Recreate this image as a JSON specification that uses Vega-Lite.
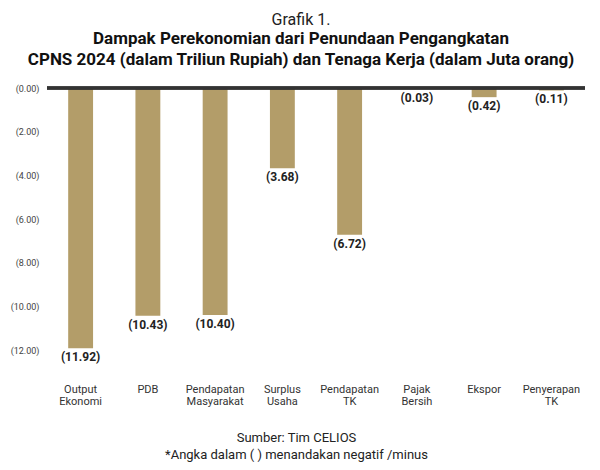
{
  "$schema": "https://vega.github.io/schema/vega-lite/v6.json",
  "autosize": {"type": "none"},
  "width": 538,
  "height": 262,
  "padding": {"left": 47, "top": 88, "right": 15, "bottom": 120},
  "background": "white",
  "config": {
    "font": "Roboto",
    "view": {"stroke": null}
  },
  "title": {
    "text": "Grafik 1.",
    "subtitle": [
      "Dampak Perekonomian dari Penundaan Pengangkatan",
      "CPNS 2024 (dalam Triliun Rupiah) dan Tenaga Kerja (dalam Juta orang)"
    ],
    "anchor": "middle",
    "dx": -15,
    "offset": 16,
    "fontSize": 16,
    "fontWeight": "normal",
    "color": "#222222",
    "subtitleFontSize": 17,
    "subtitleFontWeight": "bold",
    "subtitleColor": "#111111",
    "subtitleLineHeight": 21,
    "subtitlePadding": 3
  },
  "data": {
    "values": [
      {"kategori": "Output Ekonomi", "nilai": -11.92},
      {"kategori": "PDB", "nilai": -10.43},
      {"kategori": "Pendapatan Masyarakat", "nilai": -10.40},
      {"kategori": "Surplus Usaha", "nilai": -3.68},
      {"kategori": "Pendapatan TK", "nilai": -6.72},
      {"kategori": "Pajak Bersih", "nilai": -0.03},
      {"kategori": "Ekspor", "nilai": -0.42},
      {"kategori": "Penyerapan TK", "nilai": -0.11}
    ]
  },
  "encoding": {
    "x": {
      "field": "kategori",
      "type": "nominal",
      "sort": null,
      "scale": {"paddingInner": 0.63, "paddingOuter": 0.315},
      "axis": {
        "labelAngle": 0,
        "labelExpr": "split(datum.label, ' ')",
        "labelPadding": 33,
        "labelBaseline": "top",
        "labelFontSize": 11,
        "labelLineHeight": 12,
        "labelColor": "#333333",
        "domain": false,
        "ticks": false,
        "title": ["Sumber: Tim CELIOS", "*Angka dalam ( ) menandakan negatif /minus"],
        "titleFontSize": 13,
        "titleFontWeight": "normal",
        "titleColor": "#222222",
        "titleLineHeight": 17,
        "titlePadding": 25,
        "titleX": 249
      }
    },
    "y": {
      "field": "nilai",
      "type": "quantitative",
      "scale": {"domain": [-12, 0]},
      "axis": {
        "values": [0, -2, -4, -6, -8, -10, -12],
        "labelExpr": "'(' + format(abs(datum.value), '.2f') + ')'",
        "labelFontSize": 9,
        "labelColor": "#444444",
        "labelPadding": 8,
        "domain": false,
        "ticks": false,
        "grid": false,
        "title": null
      }
    }
  },
  "layer": [
    {
      "mark": {"type": "bar", "color": "#b39d69"}
    },
    {
      "mark": {"type": "text", "baseline": "top", "dy": 4, "fontSize": 12, "fontWeight": "bold", "color": "#222222"},
      "encoding": {
        "text": {"field": "nilai", "type": "quantitative", "format": "(.2f"}
      }
    },
    {
      "mark": {"type": "rule", "color": "#333333", "strokeWidth": 2.5},
      "encoding": {
        "y": {"datum": 0},
        "x": {"value": 0},
        "x2": {"value": 538}
      }
    }
  ]
}
